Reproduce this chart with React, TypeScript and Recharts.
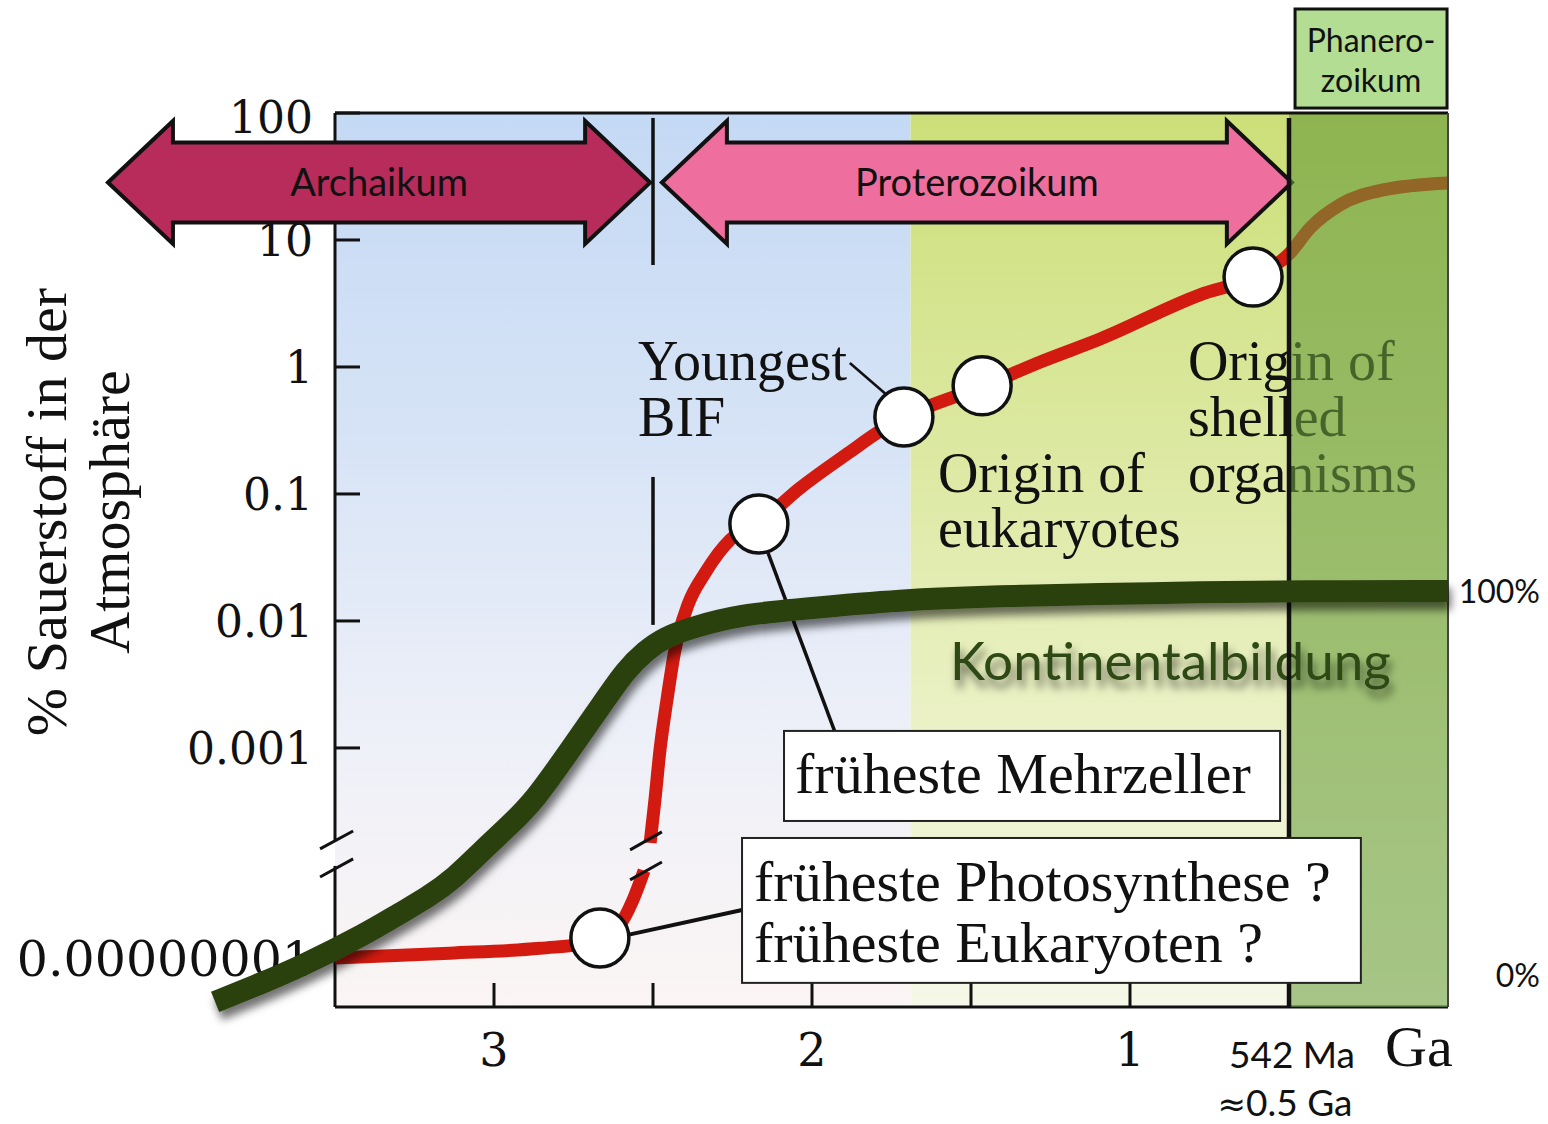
import React from 'react'
import { ComposedChart, Line, XAxis, YAxis, ReferenceArea, ReferenceLine, ReferenceDot } from 'recharts'

// Sauerstoffkurve: Alter in Ga, O2 in % der Atmosphäre (null = Achsenbruch)
const o2Ga = [3.5, 3.14, 2.855, 2.667, 2.61, 2.563, 2.528, 2.518, 2.509, 2.494, 2.478, 2.456, 2.431, 2.39, 2.336, 2.258, 2.164, 2.038, 1.881, 1.796, 1.708, 1.465, 1.28, 1.094, 0.78, 0.613, 0.497, 0.434, 0.34, 0.204, 0]
const o2Percent = [1.0e-8, 1.3e-8, 1.7e-8, 2.5e-8, 5.2e-8, 2.4e-7, 1.2e-6, null, 5.5e-6, 5.7e-5, 9e-4, 0.0024, 0.0059, 0.0134, 0.0239, 0.0434, 0.06, 0.111, 0.214, 0.302, 0.404, 0.7, 1.1, 1.66, 3.7, 5.1, 7.9, 12.4, 18.9, 24.8, 28.1]

// Kontinentalbildung in % (rechte Skala)
const continentGa = [3.877, 3.736, 3.61, 3.399, 3.296, 3.211, 3.123, 3.035, 2.95, 2.871, 2.761, 2.651, 2.588, 2.525, 2.462, 2.374, 2.226, 2.038, 1.723, 1.409, 1.094, 0.78, 0.465, 0]
const continentPct = [-7, -2.3, 2.1, 10.9, 16.1, 20.1, 25.3, 32.6, 39.1, 45.6, 58.6, 71.6, 79.2, 84.4, 88.0, 90.6, 93.8, 95.3, 97.7, 98.7, 99.2, 99.7, 100, 100]

// Ereignisse (Kreise)
const eventGa = [2.667, 2.167, 1.711, 1.465, 0.613]
const eventO2 = [3e-8, 0.058, 0.404, 0.71, 5.1]

const yTickValues = [100, 10, 1, 0.1, 0.01, 0.001, 0.00000001]
const yTickLabels = ['100', '10', '1', '0.1', '0.01', '0.001', '0.00000001']
const xTicks = [3, 2.5, 2, 1.5, 1, 0.5]
const xTickLabels = [['3'], [], ['2'], [], ['1'], ['542 Ma', '≈', '0.5 Ga']]
const pctTicks = [0, 100]

const SERIF = "'Liberation Serif', 'Times New Roman', serif"
const DEJAVU = "'DejaVu Serif', serif"
const SANS = "Lato, 'Open Sans', sans-serif"

const W = 1548
const H = 1124
const PLOT_TOP = 113
const PLOT_BOTTOM = 1007
const PLOT_LEFT = 335
const PLOT_RIGHT = 1448
const OVERLAY_LEFT = 215
const GA_MAX = 3.5
const OVERLAY_GA_MAX = (GA_MAX * (PLOT_RIGHT - OVERLAY_LEFT)) / (PLOT_RIGHT - PLOT_LEFT)
const Y_MIN = -5.04
const Y_MAX = 2
const PCT_MIN = -8.33
const PCT_MAX = 224.5

// log-Achse mit Bruch unter 0.001 %
const LOW_AXIS = -4.654
const toAxis = (v: number | null) => {
  if (v == null) return null
  const l = Math.log10(v)
  if (v >= 0.001) return l
  return LOW_AXIS + ((l + 8) * (-3 - LOW_AXIS)) / 5
}

const o2Data = o2Ga.map((ga, i) => ({ ga, o2: toAxis(o2Percent[i]) }))
const continentData = continentGa.map((ga, i) => ({ ga, pct: continentPct[i] }))

const YTick = ({ x, y, index }: any) => {
  const isLow = index === yTickLabels.length - 1
  const isTop = index === 0
  return (
    <g>
      {!isLow && <line x1={x} x2={x + 25} y1={y} y2={y} stroke="#111" strokeWidth={3} />}
      <text x={x - 22} y={y + (isLow ? 18 : isTop ? 20 : 16)} textAnchor="end" fontFamily={DEJAVU} fontSize={isLow ? 49 : 44} fill="#111">
        {yTickLabels[index]}
      </text>
    </g>
  )
}

const XTick = ({ x, y, index }: any) => {
  const lines = xTickLabels[index] || []
  return (
    <g>
      {lines.length < 2 && <line x1={x} x2={x} y1={y} y2={y - 24} stroke="#111" strokeWidth={3} />}
      {lines.length === 1 && (
        <text x={x} y={y + 59} textAnchor="middle" fontFamily={DEJAVU} fontSize={46} fill="#111">{lines[0]}</text>
      )}
      {lines.length > 1 && (
        <g fontFamily={SANS} fontSize={37} fill="#111" textAnchor="middle">
          <text x={x + 3} y={y + 61}>{lines[0]}</text>
          <text x={x - 4} y={y + 109}>
            <tspan fontFamily="'DejaVu Sans', sans-serif" fontSize={34}>{lines[1]}</tspan>
            <tspan>{lines[2]}</tspan>
          </text>
        </g>
      )}
    </g>
  )
}

const PctTick = ({ x, y, payload }: any) => (
  <text x={x + 92} y={y + 12} textAnchor="end" fontFamily={SANS} fontSize={32} fill="#111">
    {payload.value}%
  </text>
)

const doubleArrow = (name: string, color: string) => (p: any) => {
  const { x, y, width: w, height: h } = p
  const head = 65
  const inset = h * 0.175
  const cy = y + h / 2
  const pts = [
    [x, cy], [x + head, y], [x + head, y + inset], [x + w - head, y + inset], [x + w - head, y],
    [x + w, cy], [x + w - head, y + h], [x + w - head, y + h - inset], [x + head, y + h - inset], [x + head, y + h],
  ].map((q) => q.join(',')).join(' ')
  return (
    <g>
      <polygon points={pts} fill={color} stroke="#111" strokeWidth={4} />
      <text x={x + w / 2} y={cy + 14} textAnchor="middle" fontFamily={SANS} fontSize={38} fill="#111">{name}</text>
    </g>
  )
}

const serifLines = (lines: string[], gap: number) => (p: any) => (
  <text fontFamily={SERIF} fontSize={56} fill="#111">
    {lines.map((t, i) => (
      <tspan key={i} x={p.cx} y={p.cy + i * gap}>{t}</tspan>
    ))}
  </text>
)

const noteBox = (lines: string[], pad: number, first: number, gap: number) => (p: any) => (
  <g>
    <rect x={p.x} y={p.y} width={p.width} height={p.height} fill="#fff" stroke="#222" strokeWidth={2} />
    <text fontFamily={SERIF} fontSize={58} fill="#111">
      {lines.map((t, i) => (
        <tspan key={i} x={p.x + pad} y={p.y + first + i * gap}>{t}</tspan>
      ))}
    </text>
  </g>
)

const headerBox = (p: any) => (
  <g>
    <rect x={p.x} y={p.y} width={p.width} height={p.height} fill="#B2DD92" stroke="#111" strokeWidth={3} />
    <g fontFamily={SANS} fontSize={32} fill="#111" textAnchor="middle">
      <text x={p.x + p.width / 2} y={p.y + 43}>Phanero-</text>
      <text x={p.x + p.width / 2} y={p.y + 83}>zoikum</text>
    </g>
  </g>
)

const axisTitle = (p: any) => (
  <g fontFamily={SERIF} fontSize={58} fill="#111" textAnchor="middle">
    <text x={p.cx} y={p.cy} transform={`rotate(-90, ${p.cx}, ${p.cy})`}>% Sauerstoff in der</text>
    <text x={p.cx + 63} y={p.cy} transform={`rotate(-90, ${p.cx + 63}, ${p.cy})`}>Atmosphäre</text>
  </g>
)

const gaLabel = (p: any) => (
  <text x={p.cx} y={p.cy} fontFamily={SERIF} fontSize={58} fill="#111">Ga</text>
)

const continentLabel = (p: any) => (
  <text x={p.cx} y={p.cy} fontFamily={SANS} fontSize={53} fill="#2F4915" filter="url(#ovShadow)">Kontinentalbildung</text>
)

function MainChart() {
  return (
    <ComposedChart
      width={W}
      height={H}
      margin={{ top: PLOT_TOP, right: W - PLOT_RIGHT, bottom: H - PLOT_BOTTOM - 40, left: PLOT_LEFT - 60 }}
    >
      <defs>
        <linearGradient id="bgBlue" x1="0" y1="0" x2="0" y2="1">
          <stop offset="0%" stopColor="#C4D9F4" />
          <stop offset="35%" stopColor="#D6E3F6" />
          <stop offset="70%" stopColor="#EEF0F8" />
          <stop offset="100%" stopColor="#FBF5F4" />
        </linearGradient>
        <linearGradient id="bgYellow" x1="0" y1="0" x2="0" y2="1">
          <stop offset="0%" stopColor="#CCDF78" />
          <stop offset="40%" stopColor="#DDE9A4" />
          <stop offset="75%" stopColor="#EEF3CE" />
          <stop offset="100%" stopColor="#F6F8E8" />
        </linearGradient>
      </defs>

      <ReferenceArea x1={GA_MAX} x2={1.69} y1={Y_MIN} y2={Y_MAX} fill="url(#bgBlue)" fillOpacity={1} stroke="none" ifOverflow="visible" zIndex={-10} />
      <ReferenceArea x1={1.69} x2={0} y1={Y_MIN} y2={Y_MAX} fill="url(#bgYellow)" fillOpacity={1} stroke="none" ifOverflow="visible" zIndex={-10} />

      <XAxis
        dataKey="ga"
        type="number"
        domain={[0, GA_MAX]}
        reversed
        ticks={xTicks}
        interval={0}
        height={40}
        tickSize={0}
        tickMargin={0}
        tickLine={false}
        axisLine={{ stroke: '#111', strokeWidth: 3 }}
        tick={(p: any) => <XTick {...p} />}
      />
      <YAxis
        type="number"
        domain={[Y_MIN, Y_MAX]}
        ticks={yTickValues.map((v) => toAxis(v) as number)}
        interval={0}
        width={60}
        tickSize={0}
        tickMargin={0}
        tickLine={false}
        axisLine={false}
        tick={(p: any) => <YTick {...p} />}
      />

      {/* y-Achse mit Bruch */}
      <ReferenceLine segment={[{ x: GA_MAX, y: Y_MAX }, { x: GA_MAX, y: -3.724 }]} stroke="#111" strokeWidth={3} ifOverflow="visible" zIndex={510} />
      <ReferenceLine segment={[{ x: GA_MAX, y: -3.929 }, { x: GA_MAX, y: Y_MIN }]} stroke="#111" strokeWidth={3} ifOverflow="visible" zIndex={510} />
      <ReferenceLine segment={[{ x: 3.547, y: -3.795 }, { x: 3.443, y: -3.654 }]} stroke="#111" strokeWidth={3} ifOverflow="visible" zIndex={510} />
      <ReferenceLine segment={[{ x: 3.547, y: -4.016 }, { x: 3.443, y: -3.874 }]} stroke="#111" strokeWidth={3} ifOverflow="visible" zIndex={510} />

      {/* Grenze Archaikum / Proterozoikum */}
      <ReferenceLine segment={[{ x: 2.5, y: 1.961 }, { x: 2.5, y: 0.803 }]} stroke="#111" strokeWidth={3.5} ifOverflow="visible" zIndex={520} />
      <ReferenceLine segment={[{ x: 2.5, y: -0.866 }, { x: 2.5, y: -2.031 }]} stroke="#111" strokeWidth={3.5} ifOverflow="visible" zIndex={520} />

      <Line
        data={o2Data}
        dataKey="o2"
        type="monotone"
        stroke="#D21A10"
        strokeWidth={13}
        dot={false}
        activeDot={false}
        connectNulls={false}
        isAnimationActive={false}
        zIndex={600}
      />
      <ReferenceLine segment={[{ x: 2.572, y: -3.803 }, { x: 2.472, y: -3.661 }]} stroke="#111" strokeWidth={3} ifOverflow="visible" zIndex={610} />
      <ReferenceLine segment={[{ x: 2.572, y: -4.039 }, { x: 2.472, y: -3.898 }]} stroke="#111" strokeWidth={3} ifOverflow="visible" zIndex={610} />

      {/* Hinweislinien */}
      <ReferenceLine segment={[{ x: 1.881, y: 0.031 }, { x: 1.761, y: -0.228 }]} stroke="#111" strokeWidth={2.5} ifOverflow="visible" zIndex={620} />
      <ReferenceLine segment={[{ x: 2.138, y: -1.465 }, { x: 1.928, y: -2.874 }]} stroke="#111" strokeWidth={3.5} ifOverflow="visible" zIndex={620} />
      <ReferenceLine segment={[{ x: 2.579, y: -4.472 }, { x: 2.22, y: -4.276 }]} stroke="#111" strokeWidth={4} ifOverflow="visible" zIndex={620} />

      {eventGa.map((ga, i) => (
        <ReferenceDot key={i} x={ga} y={toAxis(eventO2[i]) as number} r={29} fill="#fff" fillOpacity={1} stroke="#111" strokeWidth={3.5} zIndex={630} />
      ))}

      <ReferenceDot x={2.547} y={-0.102} r={0} shape={serifLines(['Youngest', 'BIF'], 56)} ifOverflow="visible" zIndex={640} />
      <ReferenceDot x={1.604} y={-0.984} r={0} shape={serifLines(['Origin of', 'eukaryotes'], 55)} ifOverflow="visible" zIndex={640} />
      <ReferenceDot x={0.818} y={-0.102} r={0} shape={serifLines(['Origin of', 'shelled', 'organisms'], 56)} ifOverflow="visible" zIndex={640} />

      <ReferenceArea x1={4.214} x2={2.509} y1={1.937} y2={0.969} shape={doubleArrow('Archaikum', '#B82C5B')} ifOverflow="visible" zIndex={700} />
      <ReferenceArea x1={2.472} x2={0.491} y1={1.937} y2={0.969} shape={doubleArrow('Proterozoikum', '#EE6E9E')} ifOverflow="visible" zIndex={700} />

      <ReferenceDot x={4.346} y={-1.142} r={0} shape={axisTitle} ifOverflow="visible" zIndex={710} />
      <ReferenceDot x={0.198} y={-5.504} r={0} shape={gaLabel} ifOverflow="visible" zIndex={710} />
    </ComposedChart>
  )
}

function OverlayChart() {
  return (
    <ComposedChart
      width={W}
      height={H}
      margin={{ top: PLOT_TOP, right: 0, bottom: H - PLOT_BOTTOM, left: OVERLAY_LEFT }}
    >
      <defs>
        <linearGradient id="ovBand" x1="0" y1="0" x2="0" y2="1">
          <stop offset="0%" stopColor="rgb(101,152,54)" stopOpacity={0.6} />
          <stop offset="100%" stopColor="rgb(112,163,70)" stopOpacity={0.6} />
        </linearGradient>
        <filter id="ovShadow" filterUnits="userSpaceOnUse" x="0" y="0" width={W} height={H}>
          <feDropShadow dx="3" dy="8" stdDeviation="4" floodColor="#000" floodOpacity="0.55" />
        </filter>
      </defs>

      <XAxis dataKey="ga" type="number" domain={[0, OVERLAY_GA_MAX]} reversed hide />
      <YAxis yAxisId="u" type="number" domain={[Y_MIN, Y_MAX]} allowDataOverflow hide />
      <YAxis
        yAxisId="pct"
        orientation="right"
        type="number"
        domain={[PCT_MIN, PCT_MAX]}
        ticks={pctTicks}
        interval={0}
        width={W - PLOT_RIGHT}
        tickSize={0}
        tickMargin={0}
        tickLine={false}
        axisLine={false}
        tick={(p: any) => <PctTick {...p} />}
      />

      {/* Phanerozoikum */}
      <ReferenceArea yAxisId="u" x1={0.5} x2={0} y1={Y_MIN} y2={Y_MAX} fill="url(#ovBand)" fillOpacity={1} stroke="none" ifOverflow="visible" zIndex={100} />
      <ReferenceLine yAxisId="u" segment={[{ x: GA_MAX, y: Y_MAX }, { x: 0, y: Y_MAX }]} stroke="#111" strokeWidth={3} ifOverflow="visible" zIndex={110} />
      <ReferenceLine yAxisId="u" segment={[{ x: 0, y: Y_MAX }, { x: 0, y: Y_MIN }]} stroke="#444" strokeWidth={2} ifOverflow="visible" zIndex={110} />

      <ReferenceDot yAxisId="u" x={1.566} y={-2.465} r={0} shape={continentLabel} ifOverflow="visible" zIndex={120} />
      <ReferenceLine yAxisId="u" segment={[{ x: 0.5, y: 1.96 }, { x: 0.5, y: Y_MIN }]} stroke="#111" strokeWidth={4.5} ifOverflow="visible" zIndex={130} />

      <Line
        yAxisId="pct"
        data={continentData}
        dataKey="pct"
        type="basis"
        stroke="#2B4010"
        strokeWidth={22}
        filter="url(#ovShadow)"
        dot={false}
        activeDot={false}
        isAnimationActive={false}
        zIndex={140}
      />

      <ReferenceArea yAxisId="u" x1={2.088} x2={0.528} y1={-2.866} y2={-3.575} shape={noteBox(['früheste Mehrzeller'], 11, 62, 0)} ifOverflow="visible" zIndex={150} />
      <ReferenceArea yAxisId="u" x1={2.22} x2={0.274} y1={-3.709} y2={-4.85} shape={noteBox(['früheste Photosynthese ?', 'früheste Eukaryoten ?'], 12, 63, 61)} ifOverflow="visible" zIndex={150} />
      <ReferenceArea yAxisId="u" x1={0.481} x2={0.003} y1={2.819} y2={2.039} shape={headerBox} ifOverflow="visible" zIndex={160} />
    </ComposedChart>
  )
}

export default function App() {
  return (
    <div style={{ position: 'absolute', left: 0, top: 0, width: W, height: H, background: '#fff' }}>
      <div style={{ position: 'absolute', left: 0, top: 0 }}>
        <MainChart />
      </div>
      <div style={{ position: 'absolute', left: 0, top: 0 }}>
        <OverlayChart />
      </div>
    </div>
  )
}
